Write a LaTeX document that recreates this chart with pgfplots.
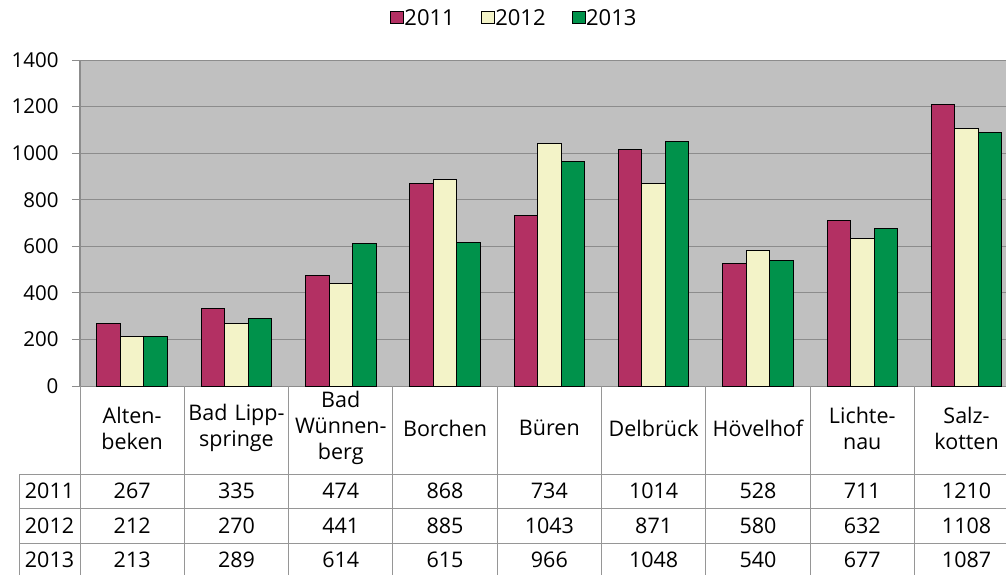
\documentclass[border=0pt]{standalone}
\usepackage{fontspec}
\setmainfont{Open Sans}
\usepackage{pgfplots}
\usepackage{pgfplotstable}
\pgfplotsset{compat=1.18}
\definecolor{cA}{RGB}{179,48,99}
\definecolor{cB}{RGB}{243,243,200}
\definecolor{cC}{RGB}{0,146,75}
\definecolor{bgc}{RGB}{192,192,192}
\definecolor{gridc}{RGB}{140,140,140}
\definecolor{tabc}{RGB}{150,150,150}
\pgfplotstableread{
x a b c
0 267 212 213
1 335 270 289
2 474 441 614
3 868 885 615
4 734 1043 966
5 1014 871 1048
6 528 580 540
7 711 632 677
8 1210 1108 1087
}\data
\newcommand\tabfont{\fontsize{21.5}{26}\selectfont}
\begin{document}
\begin{tikzpicture}[x=1pt,y=1pt]
\useasboundingbox (0,0) rectangle (1006,-574);
\begin{axis}[
  at={(80pt,-386pt)}, anchor=south west,
  scale only axis, width=938.7pt, height=326pt,
  xmin=-0.5, xmax=8.5, ymin=0, ymax=1400,
  ybar=0pt, bar width=23.5pt,
  axis background/.style={fill=bgc},
  ymajorgrids, grid style={gridc, line width=1pt},
  axis x line*=bottom, axis y line*=left,
  axis line style={gridc, line width=1pt},
  xtick={0,...,8},
  xticklabels={{Alten-\\beken},{Bad Lipp-\\springe},{Bad\\Wünnen-\\berg},Borchen,Büren,Delbrück,Hövelhof,{Lichte-\\nau},{Salz-\\kotten}},
  x tick label style={text width=102pt, align=center, font=\tabfont, anchor=center, yshift=-34pt},
  x tick style={draw=none},
  ytick={0,200,...,1400},
  y tick style={gridc, line width=1pt},
  tick align=outside, major tick length=8pt,
  /pgf/number format/assume math mode=true,
  /pgf/number format/1000 sep={},
  y tick label style={font=\fontsize{20.5}{24}\selectfont, xshift=-10pt},
  legend columns=3,
  legend style={at={(0.462,1.129)}, anchor=center, draw=none, fill=none,
    font=\fontsize{22}{26}\selectfont,
    /tikz/every even column/.append style={column sep=26pt},
    nodes={inner sep=0.5pt}},
  legend image code/.code={\draw[#1, line width=1pt] (0pt,-6pt) rectangle (12.5pt,6pt);},
]
\addplot[fill=cA, draw=black, line width=1pt] table[x=x,y=a]{\data};
\addplot[fill=cB, draw=black, line width=1pt] table[x=x,y=b]{\data};
\addplot[fill=cC, draw=black, line width=1pt] table[x=x,y=c]{\data};
\legend{2011,2012,2013}
\end{axis}
\foreach \k in {0,...,9} \draw[tabc, line width=1pt] ({80+104.3*\k},-386) -- ({80+104.3*\k},-580);
\draw[tabc, line width=1pt] (19,-474) -- (19,-580);
\foreach \yy in {474,508,543,577} \draw[tabc, line width=1pt] (19,-\yy) -- (1020,-\yy);
\foreach \lab/\yy in {2011/491,2012/525.5,2013/560} \node[font=\tabfont, inner sep=0pt] at (49.5,-\yy) {\lab};
\foreach \i in {0,...,8}{
  \foreach \col/\yy in {a/491,b/525.5,c/560}{
    \pgfplotstablegetelem{\i}{\col}\of\data
    \node[font=\tabfont, inner sep=0pt] at ({80+104.3*(\i+0.5)},-\yy) {\pgfplotsretval};
  }
}
\end{tikzpicture}
\end{document}
